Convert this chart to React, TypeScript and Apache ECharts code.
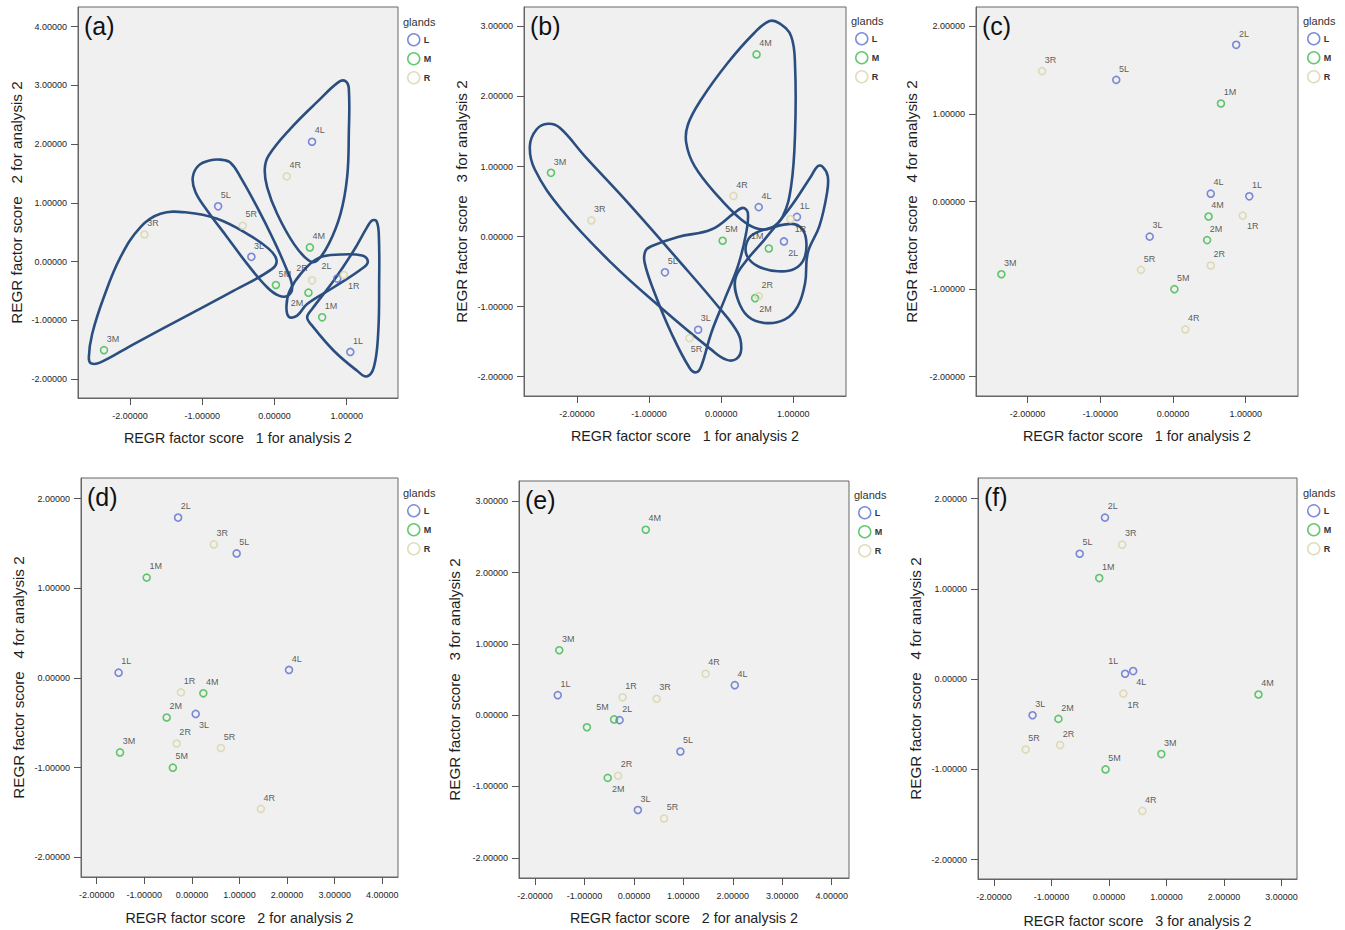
import React, { useEffect, useRef } from 'react';
import * as echarts from 'echarts';

// ---- data ----
const samples = ['1L', '2L', '3L', '4L', '5L', '1M', '2M', '3M', '4M', '5M', '1R', '2R', '3R', '4R', '5R'];
const glands = ['L', 'M', 'R'];
const factor1 = [1.05, 0.87, -0.32, 0.52, -0.78, 0.66, 0.47, -2.36, 0.49, 0.02, 0.96, 0.52, -1.80, 0.17, -0.44];
const factor2 = [-1.54, -0.29, 0.08, 2.04, 0.94, -0.95, -0.53, -1.51, 0.24, -0.40, -0.23, -0.32, 0.46, 1.45, 0.61];
const factor3 = [0.28, -0.07, -1.33, 0.42, -0.51, -0.17, -0.88, 0.91, 2.60, -0.06, 0.25, -0.85, 0.23, 0.58, -1.45];
const factor4 = [0.06, 1.79, -0.40, 0.09, 1.39, 1.12, -0.44, -0.83, -0.17, -1.00, -0.16, -0.73, 1.49, -1.46, -0.78];
const factors = [factor1, factor2, factor3, factor4];

const ticksA_X = [-2, -1, 0, 1];
const ticksA_Y = [-2, -1, 0, 1, 2, 3, 4];
const ticksB_Y = [-2, -1, 0, 1, 2, 3];
const ticksC_Y = [-2, -1, 0, 1, 2];
const ticksD_X = [-2, -1, 0, 1, 2, 3, 4];
const ticksF_X = [-2, -1, 0, 1, 2, 3];

// hand-drawn group outlines (data units)
const outlinesA = [
  [[-2.570, -1.633], [-2.524, -1.234], [-2.363, -0.609], [-2.132, 0.074], [-1.855, 0.586], [-1.578, 0.813], [-1.209, 0.836], [-0.794, 0.728], [-0.378, 0.472], [-0.078, 0.216], [0.028, 0.028], [-0.032, -0.125], [-0.563, -0.495], [-1.255, -0.950], [-1.947, -1.405], [-2.409, -1.718], [-2.538, -1.735]],
  [[-0.748, 1.735], [-0.609, 1.684], [-0.471, 1.439], [-0.240, 0.927], [-0.009, 0.358], [0.175, -0.154], [0.245, -0.438], [0.185, -0.580], [0.060, -0.580], [-0.102, -0.438], [-0.378, -0.040], [-0.655, 0.415], [-0.932, 0.870], [-1.094, 1.183], [-1.131, 1.439], [-1.048, 1.638], [-0.886, 1.724]],
  [[0.891, 3.060], [0.983, 3.072], [1.029, 2.947], [1.029, 2.179], [1.006, 1.439], [0.914, 0.813], [0.752, 0.301], [0.591, 0.017], [0.475, 0.017], [0.268, 0.301], [0.037, 0.813], [-0.102, 1.268], [-0.134, 1.581], [-0.078, 1.809], [0.222, 2.264], [0.591, 2.719]],
  [[0.614, 0.063], [0.914, 0.119], [1.214, 0.102], [1.292, 0.006], [1.237, -0.097], [0.821, -0.438], [0.452, -0.722], [0.314, -0.921], [0.198, -0.939], [0.166, -0.751], [0.212, -0.495], [0.383, -0.182]],
  [[1.352, 0.700], [1.412, 0.688], [1.444, 0.472], [1.449, -0.381], [1.435, -1.234], [1.375, -1.803], [1.274, -1.957], [1.144, -1.860], [0.821, -1.519], [0.521, -1.092], [0.452, -0.950], [0.521, -0.808], [0.821, -0.324], [1.098, 0.188], [1.283, 0.586]],
];
const outlinesB = [
  [[-2.400, 1.610], [-2.238, 1.552], [-1.892, 1.148], [-1.292, 0.481], [-0.600, -0.329], [-0.046, -0.995], [0.231, -1.376], [0.277, -1.614], [0.208, -1.748], [0.069, -1.757], [-0.138, -1.614], [-0.831, -1.019], [-1.523, -0.376], [-2.215, 0.386], [-2.584, 0.957], [-2.653, 1.290], [-2.561, 1.529]],
  [[-0.969, -0.138], [-0.600, -0.005], [-0.138, 0.100], [0.185, 0.338], [0.300, 0.410], [0.369, 0.338], [0.346, 0.052], [0.231, -0.424], [0.046, -0.900], [-0.138, -1.376], [-0.277, -1.852], [-0.346, -1.938], [-0.438, -1.876], [-0.692, -1.376], [-0.923, -0.805], [-1.061, -0.376], [-1.052, -0.210]],
  [[0.669, 3.076], [0.808, 3.043], [0.969, 2.862], [1.024, 2.433], [1.024, 1.481], [0.969, 0.719], [0.854, 0.290], [0.692, 0.124], [0.508, 0.110], [0.277, 0.243], [-0.046, 0.576], [-0.369, 1.005], [-0.485, 1.338], [-0.461, 1.600], [-0.277, 1.957], [0.092, 2.481], [0.461, 2.910]],
  [[1.338, 1.005], [1.407, 0.995], [1.477, 0.862], [1.467, 0.624], [1.361, 0.148], [1.200, -0.233], [1.163, -0.662], [1.061, -0.995], [0.877, -1.186], [0.600, -1.233], [0.369, -1.138], [0.231, -0.900], [0.194, -0.614], [0.323, -0.376], [0.600, -0.043], [0.969, 0.433], [1.246, 0.862]],
  [[0.969, 0.181], [1.108, 0.124], [1.177, -0.043], [1.154, -0.305], [1.015, -0.462], [0.785, -0.495], [0.508, -0.424], [0.360, -0.281], [0.346, -0.114], [0.438, 0.029], [0.692, 0.124]],
];

// ---- styling / layout ----
const FONT = '"Liberation Sans", Arial, sans-serif';
const glandColors: Record<string, string> = { L: '#5b6dcf', M: '#3cb94a', R: '#d8d4a6' };
const DEFAULT_LABEL: [number, number] = [3.5, -10.5];

type Panel = {
  letter: string; xf: number; yf: number;
  left: number; top: number; width: number; height: number;
  xMin: number; xMax: number; yMin: number; yMax: number;
  xTicks: number[]; yTicks: number[]; xGap: number; yGap: number;
  legX: number; legY: number; outlines?: number[][][];
  labelAdj: Record<string, [number, number] | null>;
};

const panels: Panel[] = [
  { letter: '(a)', xf: 0, yf: 1, left: 78, top: 7, width: 320, height: 391, xMin: -2.72, xMax: 1.71, yMin: -2.324, yMax: 4.335, xTicks: ticksA_X, yTicks: ticksA_Y, xGap: 33, yGap: 54, legX: 403, legY: 23, outlines: outlinesA,
    labelAdj: { '2R': [-15, -12], '2M': [-17, 11], '1R': [5, 12], '2L': [-15, -12] } },
  { letter: '(b)', xf: 0, yf: 2, left: 524, top: 7, width: 322, height: 389, xMin: -2.734, xMax: 1.73, yMin: -2.276, yMax: 3.277, xTicks: ticksA_X, yTicks: ticksB_Y, xGap: 33, yGap: 55, legX: 851, legY: 22, outlines: outlinesB,
    labelAdj: { '5R': [2, 12], '2M': [5, 12], '2L': [5, 12], '1M': [-17, -12], '1R': [5, 11] } },
  { letter: '(c)', xf: 0, yf: 3, left: 976, top: 7, width: 322, height: 389, xMin: -2.709, xMax: 1.72, yMin: -2.22, yMax: 2.222, xTicks: ticksA_X, yTicks: ticksC_Y, xGap: 32.5, yGap: 57, legX: 1303, legY: 22,
    labelAdj: { '1R': [5, 11] } },
  { letter: '(d)', xf: 1, yf: 3, left: 81, top: 478, width: 317, height: 399, xMin: -2.33, xMax: 4.33, yMin: -2.219, yMax: 2.231, xTicks: ticksD_X, yTicks: ticksC_Y, xGap: 34, yGap: 55, legX: 403, legY: 494,
    labelAdj: { '3L': [4, 12] } },
  { letter: '(e)', xf: 1, yf: 2, left: 519, top: 481, width: 330, height: 397, xMin: -2.324, xMax: 4.35, yMin: -2.284, yMax: 3.284, xTicks: ticksD_X, yTicks: ticksB_Y, xGap: 33, yGap: 57, legX: 854, legY: 496,
    labelAdj: { '2M': [5, 12], '5M': [-17, -12], '1M': null } },
  { letter: '(f)', xf: 2, yf: 3, left: 978, top: 478, width: 319, height: 401, xMin: -2.279, xMax: 3.27, yMin: -2.214, yMax: 2.229, xTicks: ticksF_X, yTicks: ticksC_Y, xGap: 34.5, yGap: 55, legX: 1303, legY: 494,
    labelAdj: { '1L': [-16, -12], '4L': [4, 12], '1R': [5, 12] } },
];

const axisName = (n: number) => `REGR factor score   ${n} for analysis 2`;

function buildOption() {
  const grid: any[] = [];
  const xAxis: any[] = [];
  const yAxis: any[] = [];
  const legend: any[] = [];
  const series: any[] = [];
  const graphic: any[] = [];

  panels.forEach((p, i) => {
    grid.push({
      left: p.left, top: p.top, width: p.width, height: p.height,
      show: true, backgroundColor: '#f0f0f0', borderColor: '#666', borderWidth: 1,
    });
    const common = (ticks: number[], nameSize: number, margin: number) => ({
      type: 'value',
      gridIndex: i,
      axisLine: { show: true, onZero: false, lineStyle: { color: '#666', width: 1 } },
      axisTick: { show: true, length: 7, customValues: ticks, lineStyle: { color: '#555' } },
      axisLabel: {
        customValues: ticks, fontSize: 9, color: '#1e1e1e', fontFamily: FONT, margin,
        formatter: (v: number) => v.toFixed(5),
      },
      splitLine: { show: false },
      nameLocation: 'middle',
      nameTextStyle: { fontSize: nameSize, color: '#1e1e1e', fontFamily: FONT },
    });
    xAxis.push({
      ...common(p.xTicks, 14.3, 13), min: p.xMin, max: p.xMax, name: axisName(p.xf + 1), nameGap: p.xGap,
    });
    yAxis.push({
      ...common(p.yTicks, 15.2, 11), min: p.yMin, max: p.yMax, name: axisName(p.yf + 1), nameGap: p.yGap,
    });

    legend.push({
      left: p.legX + 4, top: p.legY + 10, orient: 'vertical', padding: 0,
      itemWidth: 12, itemHeight: 12, itemGap: 5.5,
      data: glands,
      itemStyle: { borderWidth: 1.5 },
      textStyle: { fontSize: 9, color: '#333', fontWeight: 'bold', fontFamily: FONT, padding: [0, 0, 0, -1] },
      selectedMode: false,
    });

    graphic.push({
      type: 'text', left: p.left + 6, top: p.top + 6, silent: true,
      style: { text: p.letter, fontSize: 25, fill: '#111', fontFamily: FONT },
    });
    graphic.push({
      type: 'text', left: p.legX, top: p.legY - 7, silent: true,
      style: { text: 'glands', fontSize: 11, fill: '#333', fontFamily: FONT },
    });

    if (p.outlines) {
      const outlines = p.outlines;
      series.push({
        type: 'custom',
        xAxisIndex: i, yAxisIndex: i,
        silent: true, z: 1, clip: true,
        data: outlines.map((s, k) => [s[0][0], s[0][1], k]),
        encode: { x: 0, y: 1 },
        renderItem: (_params: any, api: any) => {
          const k = api.value(2);
          const pts = outlines[k].map((pt) => api.coord(pt));
          return {
            type: 'polygon',
            shape: { points: pts, smooth: 0.4 },
            style: { fill: 'none', stroke: '#2b4e80', lineWidth: 2.6 },
          };
        },
      });
    }

    glands.forEach((g) => {
      const data: any[] = [];
      samples.forEach((s, idx) => {
        if (s[1] !== g) return;
        const adj = s in p.labelAdj ? p.labelAdj[s] : DEFAULT_LABEL;
        data.push({
          name: s,
          value: [factors[p.xf][idx], factors[p.yf][idx]],
          label: adj
            ? { show: true, position: [3.5 + adj[0], 3.5 + adj[1]], align: 'left', verticalAlign: 'middle' }
            : { show: false },
        });
      });
      series.push({
        type: 'scatter',
        name: g,
        xAxisIndex: i, yAxisIndex: i,
        z: 3,
        symbol: 'circle',
        symbolSize: 7,
        itemStyle: { color: 'rgba(0,0,0,0)', borderColor: glandColors[g], borderWidth: 1.6 },
        label: {
          show: true, formatter: '{b}', fontSize: 9, color: '#333', fontFamily: FONT,
        },
        data,
      });
    });
  });

  return {
    animation: false,
    color: glands.map((g) => glandColors[g]),
    textStyle: { fontFamily: FONT },
    grid, xAxis, yAxis, legend, series, graphic,
  };
}

export default function App() {
  const ref = useRef<HTMLDivElement>(null);
  useEffect(() => {
    if (!ref.current) return;
    const chart = echarts.init(ref.current, undefined, { renderer: 'svg' });
    chart.setOption(buildOption() as any);
    return () => chart.dispose();
  }, []);
  return (
    <div
      ref={ref}
      style={{ position: 'absolute', left: 0, top: 0, width: 1345, height: 930, background: '#ffffff' }}
    />
  );
}
